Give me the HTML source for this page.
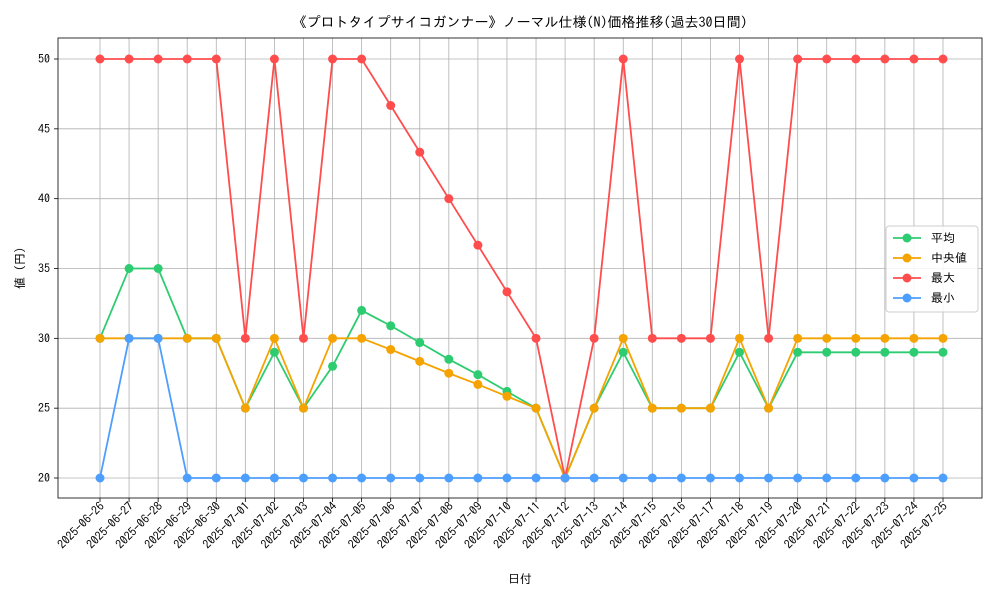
<!DOCTYPE html>
<html><head><meta charset="utf-8"><style>
body{margin:0;background:#fff;font-family:"IPAGothic","Noto Sans CJK JP",sans-serif;}
svg text{font-family:"IPAGothic","Noto Sans CJK JP",sans-serif;fill:#000;}
</style></head><body>
<svg id="chart" width="1000" height="600" xmlns="http://www.w3.org/2000/svg"></svg>
<script>
const dates=["2025-06-26","2025-06-27","2025-06-28","2025-06-29","2025-06-30","2025-07-01","2025-07-02","2025-07-03","2025-07-04","2025-07-05","2025-07-06","2025-07-07","2025-07-08","2025-07-09","2025-07-10","2025-07-11","2025-07-12","2025-07-13","2025-07-14","2025-07-15","2025-07-16","2025-07-17","2025-07-18","2025-07-19","2025-07-20","2025-07-21","2025-07-22","2025-07-23","2025-07-24","2025-07-25"];
const avgVals=[30,35,35,30,30,25,29,25,28,32,30.9,29.7,28.5,27.4,26.2,25,20,25,29,25,25,25,29,25,29,29,29,29,29,29];
const medVals=[30,30,30,30,30,25,30,25,30,30,29.2,28.35,27.5,26.7,25.85,25,20,25,30,25,25,25,30,25,30,30,30,30,30,30];
const maxVals=[50,50,50,50,50,30,50,30,50,50,46.67,43.33,40,36.67,33.33,30,20,30,50,30,30,30,50,30,50,50,50,50,50,50];
const minVals=[20,30,30,20,20,20,20,20,20,20,20,20,20,20,20,20,20,20,20,20,20,20,20,20,20,20,20,20,20,20];
const yTicks=[20,25,30,35,40,45,50];
const seriesNames=["平均","中央値","最大","最小"];
const colors=["#2ecc71","#f5a300","#ff4d4d","#4d9fff"];
const NS="http://www.w3.org/2000/svg";
const svg=document.getElementById("chart");
const L=58,R=982,T=38,B=498;
const x=i=>100+i*(943-100)/(dates.length-1);
const y=v=>478-(v-20)*(478-59)/30;
function el(tag,attrs,parent){const e=document.createElementNS(NS,tag);for(const k in attrs)e.setAttribute(k,attrs[k]);(parent||svg).appendChild(e);return e;}
const grid=el("g",{});


dates.forEach((d,i)=>{el("line",{x1:x(i),x2:x(i),y1:T,y2:B,stroke:"#b0b0b0","stroke-width":0.8},grid);
 el("line",{x1:x(i),x2:x(i),y1:B,y2:B+4,stroke:"#000","stroke-width":0.8},grid);
 const t=el("text",{x:x(i)+5,y:B+9,"font-size":12,"text-anchor":"end",transform:`rotate(-45 ${x(i)+5} ${B+9})`});
 
 
 t.textContent=d;});
yTicks.forEach(v=>{el("line",{x1:L,x2:R,y1:y(v),y2:y(v),stroke:"#b0b0b0","stroke-width":0.8},grid);
 el("line",{x1:L-4,x2:L,y1:y(v),y2:y(v),stroke:"#000","stroke-width":0.8},grid);
 const t=el("text",{x:L-8,y:y(v)+4,"font-size":12,"text-anchor":"end"});
 
 
 t.textContent=v;});
const frame=el("rect",{x:L,y:T,width:R-L,height:B-T,fill:"none",stroke:"#000","stroke-width":0.8});


[avgVals,medVals,maxVals,minVals].forEach((vals,s)=>{
 const g=el("g",{});
 
 
 el("polyline",{points:vals.map((v,i)=>x(i)+","+y(v)).join(" "),fill:"none",stroke:colors[s],"stroke-width":1.8},g);
 vals.forEach((v,i)=>{const c=el("circle",{cx:x(i),cy:y(v),r:4.5,fill:colors[s]},g);
  
  });
});
const lg=el("g",{});


el("rect",{x:886,y:226,width:92,height:86,rx:3,fill:"#fff","fill-opacity":0.85,stroke:"#ccc"},lg);
seriesNames.forEach((n,s)=>{const yy=238+s*20;
 el("line",{x1:893,x2:921,y1:yy,y2:yy,stroke:colors[s],"stroke-width":1.8},lg);
 el("circle",{cx:907,cy:yy,r:4.5,fill:colors[s]},lg);
 const t=el("text",{x:931,y:yy+4,"font-size":12},lg);
 
 
 t.textContent=n;});
</script>
<svg style="position:absolute;left:0;top:0" width="1000" height="600" xmlns="http://www.w3.org/2000/svg">
<text x="520" y="27" font-size="14" text-anchor="middle">《プロトタイプサイコガンナー》ノーマル仕様(N)価格推移(過去30日間)</text>
<text x="520" y="583" font-size="12" text-anchor="middle">日付</text>
<text x="24" y="268" font-size="12" text-anchor="middle" transform="rotate(-90 24 268)">値 (円)</text>
</svg>
</body></html>
